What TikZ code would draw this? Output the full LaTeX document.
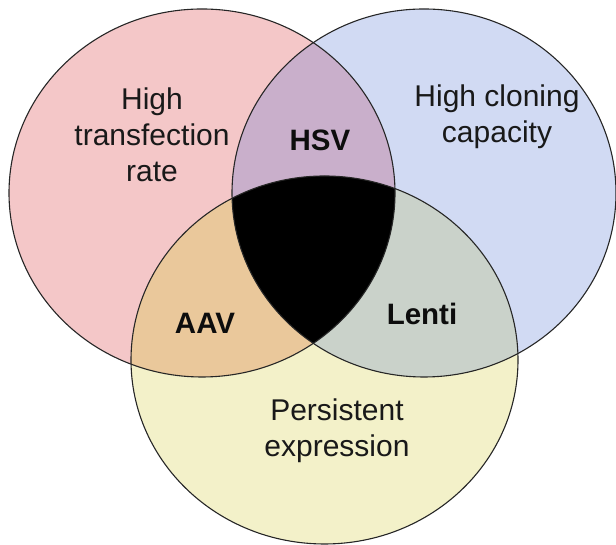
\documentclass[tikz,border=0pt]{standalone}
\usepackage{fontspec}
\setsansfont{Liberation Sans}
\usepackage[dvipsnames]{xcolor}

\definecolor{redset}{HTML}{F4C7C8}
\definecolor{blueset}{HTML}{D1DAF3}
\definecolor{yellowset}{HTML}{F3F1C9}
\definecolor{hsvpart}{HTML}{C9AFCB}
\definecolor{aavpart}{HTML}{EAC89B}
\definecolor{lentipart}{HTML}{CAD2CA}

\begin{document}
\begin{tikzpicture}[x=1pt,y=1pt,
            set node/.style={align=center,text=black!90,font=\sffamily\fontsize{30}{36}\selectfont},
            tag node/.style={text=black!95,font=\sffamily\bfseries\fontsize{29.5}{34}\selectfont},
            rim/.style={draw=black!85,line width=1.1pt}]
            \useasboundingbox (0,0) rectangle (616,545);

            \coordinate (R) at (202,352);
            \coordinate (B) at (424,352);
            \coordinate (Y) at (324.5,185);
            \def\redsetpath{(R) ellipse [x radius=193,y radius=184]}
            \def\bluesetpath{(B) ellipse [x radius=192,y radius=184]}
            \def\yellowsetpath{(Y) ellipse [x radius=193.5,y radius=184]}

            % the three sets
            \fill[redset] \redsetpath;
            \fill[blueset] \bluesetpath;
            \fill[yellowset] \yellowsetpath;

            % overlaps
            \begin{scope}
                \clip \redsetpath;
                \fill[hsvpart] \bluesetpath;
                \fill[aavpart] \yellowsetpath;
            \end{scope}
            \begin{scope}
                \clip \bluesetpath;
                \fill[lentipart] \yellowsetpath;
                \clip \redsetpath;
                \fill[black] \yellowsetpath;
            \end{scope}

            \draw[rim] \redsetpath;
            \draw[rim] \bluesetpath;
            \draw[rim] \yellowsetpath;

            \node[set node] (trans) at (152,410) {High\\transfection\\rate};
            \node[set node] (clone) at (497,428) {High cloning\\capacity};
            \node[set node] (persist) at (337,114) {Persistent\\expression};

            \node[tag node] (hsv) at (320,405) {HSV};
            \node[tag node] (aav) at (205,222) {AAV};
            \node[tag node] (lenti) at (422,231) {Lenti};
        \end{tikzpicture}
\end{document}
